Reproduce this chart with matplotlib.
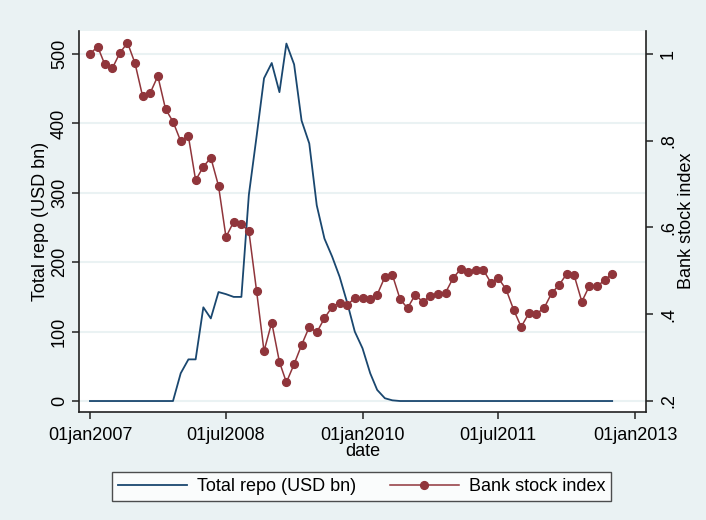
import matplotlib
matplotlib.use("Agg")
import matplotlib.pyplot as plt
from matplotlib.lines import Line2D
import pandas as pd

# ---- data ----
start_month = "2007-01-01"
n_months = 70
repo = [0, 0, 0, 0, 0, 0, 0, 0, 0, 0,
        0, 0, 40, 60, 60, 135, 119, 157, 154, 150,
        150, 297, 381, 465, 487, 445, 515, 485, 404, 371,
        282, 234, 208, 179, 141, 100, 76, 40, 16, 4,
        1, 0, 0, 0, 0, 0, 0, 0, 0, 0,
        0, 0, 0, 0, 0, 0, 0, 0, 0, 0,
        0, 0, 0, 0, 0, 0, 0, 0, 0, 0]
bank = [1.0, 1.017, 0.977, 0.967, 1.002, 1.026, 0.979, 0.902, 0.911, 0.949,
        0.873, 0.844, 0.799, 0.810, 0.709, 0.740, 0.761, 0.696, 0.578, 0.613,
        0.607, 0.592, 0.454, 0.315, 0.381, 0.290, 0.243, 0.285, 0.329, 0.371,
        0.358, 0.391, 0.417, 0.427, 0.421, 0.438, 0.437, 0.435, 0.445, 0.486,
        0.491, 0.435, 0.414, 0.445, 0.428, 0.443, 0.446, 0.450, 0.484, 0.505,
        0.498, 0.503, 0.503, 0.473, 0.483, 0.458, 0.410, 0.371, 0.402, 0.401,
        0.414, 0.449, 0.467, 0.493, 0.490, 0.429, 0.465, 0.464, 0.479, 0.493]
xtick_dates = ["2007-01-01", "2008-07-01", "2010-01-01", "2011-07-01", "2013-01-01"]
xtick_labels = ["01jan2007", "01jul2008", "01jan2010", "01jul2011", "01jan2013"]
left_ticks = [0, 100, 200, 300, 400, 500]
right_ticks = [0.2, 0.4, 0.6, 0.8, 1.0]
right_labels = [".2", ".4", ".6", ".8", "1"]

dates = pd.date_range(start_month, periods=n_months, freq="MS")

# ---- style ----
plt.rcParams["font.family"] = ["Liberation Sans", "DejaVu Sans"]
plt.rcParams["font.size"] = 13
BG = "#EAF2F3"
BLUE = "#1A476F"
RED = "#90353B"
AXC = "#222222"

fig = plt.figure(figsize=(7.06, 5.20), dpi=100, facecolor=BG)
ax = fig.add_axes([79 / 706, 1 - 411.5 / 520, (646 - 79) / 706, (411.5 - 31) / 520])
ax.set_facecolor("white")

ax.plot(dates, repo, color=BLUE, lw=1.3, zorder=3)
ax.set_ylim(-15.1, 533.1)
ax.set_yticks(left_ticks)
ax.set_yticklabels([str(v) for v in left_ticks], rotation=90, va="center")
ax.grid(axis="y", color=BG, lw=1.5)
ax.grid(axis="x", visible=False)
ax.set_axisbelow(True)

xt = [pd.Timestamp(d) for d in xtick_dates]
ax.set_xticks(xt)
ax.set_xticklabels(xtick_labels)
ax.set_xlim(pd.Timestamp("2006-11-18"), pd.Timestamp("2013-02-14"))
ax.set_xlabel("date", labelpad=-1)

ax2 = ax.twinx()
ax2.plot(dates, bank, color=RED, lw=1.1, marker="o", ms=5.6, mec=RED, mfc=RED, zorder=4)
ax2.set_ylim(0.2 - 15.1 / 625, 0.2 + 533.1 / 625)
ax2.set_yticks(right_ticks)
ax2.set_yticklabels(right_labels, rotation=90, va="center")

for a in (ax, ax2):
    a.spines["top"].set_visible(False)
    for s in ("left", "right", "bottom"):
        a.spines[s].set_color(AXC)
        a.spines[s].set_linewidth(1.2)
    a.tick_params(length=5, width=1.1, color=AXC, pad=5, labelcolor="black")
ax.tick_params(axis="x", pad=6.5)
ax.tick_params(axis="y", pad=3)
ax.spines["right"].set_visible(False)
ax2.spines["left"].set_visible(False)
ax2.spines["bottom"].set_visible(False)

ax.set_ylabel("Total repo (USD bn)")
ax.yaxis.set_label_coords(-30 / 567, 0.5)
ax2.set_ylabel("Bank stock index", rotation=90)
ax2.yaxis.set_label_coords(1 + 32 / 567, 0.5)

handles = [Line2D([], [], color=BLUE, lw=1.3),
           Line2D([], [], color=RED, lw=1.1, marker="o", ms=5.6)]
leg = fig.legend(handles, ["Total repo (USD bn)", "Bank stock index"],
                 loc="center", bbox_to_anchor=(361.5 / 706, 1 - 486.5 / 520),
                 ncol=2, frameon=True, fancybox=False, handlelength=3.8,
                 handletextpad=0.55, columnspacing=1.9, borderpad=0.35,
                 fontsize=13)
leg.get_frame().set_edgecolor(AXC)
leg.get_frame().set_linewidth(1.0)
leg.get_frame().set_facecolor("white")

fig.savefig("out.png", dpi=100, facecolor=BG)
